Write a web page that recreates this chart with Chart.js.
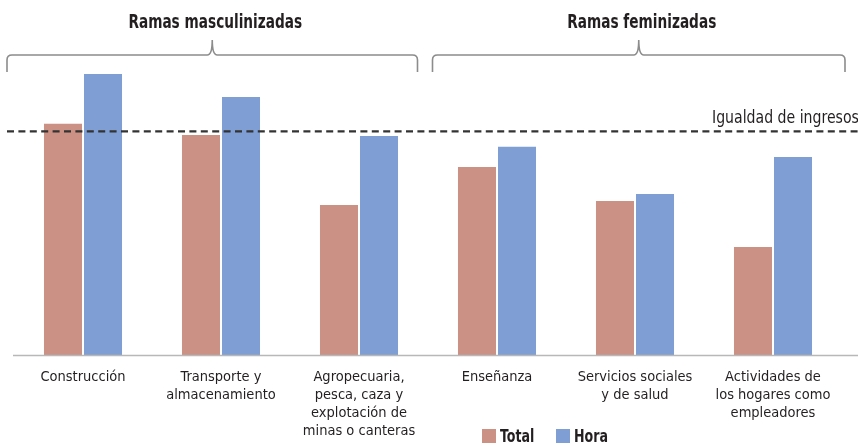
<!DOCTYPE html>
<html><head><meta charset="utf-8">
<script src="https://cdn.jsdelivr.net/npm/chart.js@4/dist/chart.umd.min.js"></script>
<style>html,body{margin:0;padding:0;background:#fff;}#wrap{width:858px;height:446px;position:relative;}</style>
</head><body><div id="wrap"><canvas id="c" width="858" height="446"></canvas></div>
<script>
const categories = [
  ["Construcción"],
  ["Transporte y","almacenamiento"],
  ["Agropecuaria,","pesca, caza y","explotación de","minas o canteras"],
  ["Enseñanza"],
  ["Servicios sociales","y de salud"],
  ["Actividades de","los hogares como","empleadores"]
];
const seriesNames = ["Total","Hora"];
const totalValues = [103.4, 98.4, 67.1, 84.1, 68.9, 48.3];
const horaValues  = [125.7, 115.4, 98.0, 93.1, 72.0, 88.6];
const equalityValue = 100;
const equalityLabel = "Igualdad de ingresos";
const groupLabels = ["Ramas masculinizadas","Ramas feminizadas"];
const groupRanges = [[0,2],[3,5]];

const COLORS = ["#CB9184","#7F9ED3"];
const FONT = "'DejaVu Sans Condensed','Liberation Sans',sans-serif";
const TEXT = "#231f20";

function condText(ctx, txt, x, y, sx, align){
  ctx.save();
  ctx.translate(x, y); ctx.scale(sx, 1);
  ctx.textAlign = align; ctx.fillText(txt, 0, 0);
  ctx.restore();
}

const overlay = {
  id:'overlay',
  afterDatasetsDraw(chart){
    const ctx = chart.ctx, x = chart.scales.x, y = chart.scales.y, ca = chart.chartArea;
    ctx.save();
    // baseline
    ctx.strokeStyle = "#b8b8b8"; ctx.lineWidth = 1.5;
    ctx.beginPath(); ctx.moveTo(13, ca.bottom+0.5); ctx.lineTo(858, ca.bottom+0.5); ctx.stroke();
    // equality line
    const ey = y.getPixelForValue(equalityValue);
    ctx.strokeStyle = "#333"; ctx.lineWidth = 2.2; ctx.setLineDash([7,4.4]);
    ctx.beginPath(); ctx.moveTo(7, ey); ctx.lineTo(858, ey); ctx.stroke();
    ctx.setLineDash([]);
    ctx.fillStyle = TEXT; ctx.font = "18px " + FONT; ctx.textBaseline = "middle";
    condText(ctx, equalityLabel, 712, ey - 13, 0.87, "left");
    // brackets
    const bracketDefs = [[-76, 58.5],[-64.5, 72]];
    groupRanges.forEach((r,i)=>{
      const x1 = x.getPixelForValue(r[0]) + bracketDefs[i][0];
      const x2 = x.getPixelForValue(r[1]) + bracketDefs[i][1];
      const mid = (x1+x2)/2, hy = 55, ty = 40, by = 72;
      ctx.strokeStyle = "#8c8c8c"; ctx.lineWidth = 1.6;
      ctx.beginPath();
      ctx.moveTo(x1, by); ctx.lineTo(x1, hy+5);
      ctx.quadraticCurveTo(x1, hy, x1+5, hy);
      ctx.lineTo(mid-5, hy);
      ctx.quadraticCurveTo(mid, hy, mid, ty);
      ctx.quadraticCurveTo(mid, hy, mid+5, hy);
      ctx.lineTo(x2-5, hy);
      ctx.quadraticCurveTo(x2, hy, x2, hy+5);
      ctx.lineTo(x2, by);
      ctx.stroke();
      ctx.fillStyle = TEXT; ctx.font = "bold 20px " + FONT; ctx.textBaseline = "middle";
      condText(ctx, groupLabels[i], mid + 3, 23, 0.76, "center");
    });
    // legend
    let lx = 482; const ly = 436;
    ctx.font = "bold 18px " + FONT; ctx.textBaseline = "middle";
    chart.data.datasets.forEach((ds,i)=>{
      ctx.fillStyle = ds.backgroundColor; ctx.fillRect(lx, ly-7, 14, 14);
      ctx.fillStyle = TEXT; condText(ctx, ds.label, lx+18, ly+1, 0.78, "left");
      lx += 74;
    });
    ctx.restore();
  }
};

new Chart(document.getElementById('c'), {
  type:'bar',
  data:{
    labels: categories,
    datasets:[
      {label: seriesNames[0], data: totalValues, backgroundColor: COLORS[0]},
      {label: seriesNames[1], data: horaValues, backgroundColor: COLORS[1]}
    ]
  },
  options:{
    responsive:false, animation:false,
    layout:{padding:{left:14, right:16, top:42, bottom:0}},
    categoryPercentage:0.58, barPercentage:0.95,
    plugins:{legend:{display:false}, tooltip:{enabled:false}},
    scales:{
      y:{display:false, min:0, max:140},
      x:{grid:{display:false}, border:{display:false},
         afterFit(scale){ scale.height = 91; },
         ticks:{color:TEXT, font:{family:FONT, size:14.5, lineHeight:1.24}, padding:5, autoSkip:false, maxRotation:0}}
    }
  },
  plugins:[overlay]
});
</script></body></html>
